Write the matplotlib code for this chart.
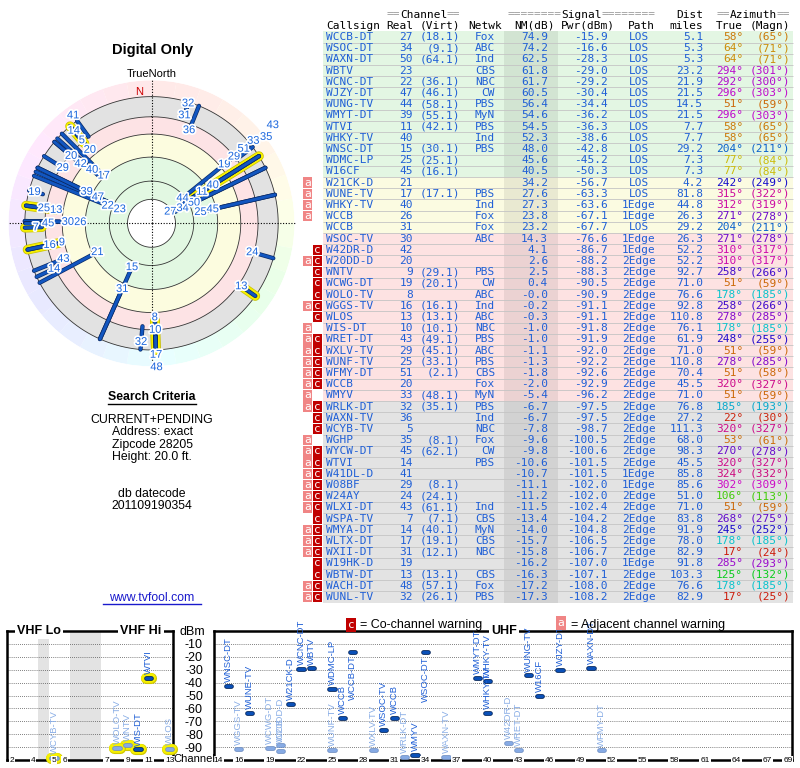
import colorsys
import numpy as np
import matplotlib
matplotlib.use('Agg')
import matplotlib.pyplot as plt
import matplotlib.patheffects as pe

# station list (sorted by NM)
callsign = ['WCCB-DT', 'WSOC-DT', 'WAXN-DT', 'WBTV', 'WCNC-DT', 'WJZY-DT', 'WUNG-TV', 'WMYT-DT', 'WTVI', 'WHKY-TV',
            'WNSC-DT', 'WDMC-LP', 'W16CF', 'W21CK-D', 'WUNE-TV', 'WHKY-TV', 'WCCB', 'WCCB', 'WSOC-TV', 'W42DR-D',
            'W20DD-D', 'WNTV', 'WCWG-DT', 'WOLO-TV', 'WGGS-TV', 'WLOS', 'WIS-DT', 'WRET-DT', 'WXLV-TV', 'WUNF-TV',
            'WFMY-DT', 'WCCB', 'WMYV', 'WRLK-DT', 'WAXN-TV', 'WCYB-TV', 'WGHP', 'WYCW-DT', 'WTVI', 'W41DL-D',
            'W08BF', 'W24AY', 'WLXI-DT', 'WSPA-TV', 'WMYA-DT', 'WLTX-DT', 'WXII-DT', 'W19HK-D', 'WBTW-DT', 'WACH-DT',
            'WUNL-TV']
real = [27, 34, 50, 23, 22, 47, 44, 39, 11, 40, 15, 25, 45, 21, 17, 40, 26, 31, 30, 42,
        20, 9, 19, 8, 16, 13, 10, 43, 29, 25, 51, 20, 33, 32, 36, 5, 35, 45, 14, 41,
        29, 24, 43, 7, 14, 17, 31, 19, 13, 48, 32]
virt = [18.1, 9.1, 64.1, None, 36.1, 46.1, 58.1, 55.1, 42.1, None, 30.1, 25.1, 16.1, None, 17.1, None, None, None,
        None, None, None, 29.1, 20.1, None, 16.1, 13.1, 10.1, 49.1, 45.1, 33.1, 2.1, None, 48.1, 35.1, None, None,
        8.1, 62.1, None, None, 8.1, 24.1, 61.1, 7.1, 40.1, 19.1, 12.1, None, 13.1, 57.1, 26.1]
netwk = ['Fox', 'ABC', 'Ind', 'CBS', 'NBC', 'CW', 'PBS', 'MyN', 'PBS', 'Ind', 'PBS', '', '', '', 'PBS', 'Ind',
         'Fox', 'Fox', 'ABC', '', '', 'PBS', 'CW', 'ABC', 'Ind', 'ABC', 'NBC', 'PBS', 'ABC', 'PBS', 'CBS', 'Fox',
         'MyN', 'PBS', 'Ind', 'NBC', 'Fox', 'CW', 'PBS', '', '', '', 'Ind', 'CBS', 'MyN', 'CBS', 'NBC', '', 'CBS',
         'Fox', 'PBS']
nm = [74.9, 74.2, 62.5, 61.8, 61.7, 60.5, 56.4, 54.6, 54.5, 52.3, 48.0, 45.6, 40.5, 34.2, 27.6, 27.3, 23.8, 23.2,
      14.3, 4.1, 2.6, 2.5, 0.4, -0.0, -0.2, -0.3, -1.0, -1.0, -1.1, -1.3, -1.8, -2.0, -5.4, -6.7, -6.7, -7.8,
      -9.6, -9.8, -10.6, -10.7, -11.1, -11.2, -11.5, -13.4, -14.0, -15.7, -15.8, -16.2, -16.3, -17.2, -17.3]
pwr = [-15.9, -16.6, -28.3, -29.0, -29.2, -30.4, -34.4, -36.2, -36.3, -38.6, -42.8, -45.2, -50.3, -56.7, -63.3,
       -63.6, -67.1, -67.7, -76.6, -86.7, -88.2, -88.3, -90.5, -90.9, -91.1, -91.1, -91.8, -91.9, -92.0, -92.2,
       -92.6, -92.9, -96.2, -97.5, -97.5, -98.7, -100.5, -100.6, -101.5, -101.5, -102.0, -102.0, -102.4, -104.2,
       -104.8, -106.5, -106.7, -107.0, -107.1, -108.0, -108.2]
path = ['LOS', 'LOS', 'LOS', 'LOS', 'LOS', 'LOS', 'LOS', 'LOS', 'LOS', 'LOS', 'LOS', 'LOS', 'LOS', 'LOS', 'LOS',
        '1Edge', '1Edge', 'LOS', '1Edge', '1Edge', '2Edge', '2Edge', '2Edge', '2Edge', '2Edge', '2Edge', '2Edge',
        '2Edge', '2Edge', '2Edge', '2Edge', '2Edge', '2Edge', '2Edge', '2Edge', '2Edge', '2Edge', '2Edge', '2Edge',
        '1Edge', '1Edge', '2Edge', '2Edge', '2Edge', '2Edge', '2Edge', '2Edge', '1Edge', '2Edge', '2Edge', '2Edge']
dist = [5.1, 5.3, 5.3, 23.2, 21.9, 21.5, 14.5, 21.5, 7.7, 7.7, 29.2, 7.3, 7.3, 4.2, 81.8, 44.8, 26.3, 29.2, 26.3,
        52.2, 52.2, 92.7, 71.0, 76.6, 92.8, 110.8, 76.1, 61.9, 71.0, 110.8, 70.4, 45.5, 71.0, 76.8, 27.2, 111.3,
        68.0, 98.3, 45.5, 85.8, 85.6, 51.0, 71.0, 83.8, 91.9, 78.0, 82.9, 91.8, 103.3, 76.6, 82.9]
az_true = [58, 64, 64, 294, 292, 296, 51, 296, 58, 58, 204, 77, 77, 242, 315, 312, 271, 204, 271, 310,
           310, 258, 51, 178, 258, 278, 178, 248, 51, 278, 51, 320, 51, 185, 22, 320, 53, 270, 320, 324,
           302, 106, 51, 268, 245, 178, 17, 285, 125, 178, 17]
az_magn = [65, 71, 71, 301, 300, 303, 59, 303, 65, 65, 211, 84, 84, 249, 322, 319, 278, 211, 278, 317,
           317, 266, 59, 185, 266, 285, 185, 255, 59, 285, 58, 327, 59, 193, 30, 327, 61, 278, 327, 332,
           309, 113, 59, 275, 252, 185, 24, 293, 132, 185, 25]
warn = [''] * 13 + ['a', 'a', 'a', 'a', '', '', 'c', 'ac', 'c', 'c', 'c', 'ac', 'c', 'a',
                    'ac', 'ac', 'ac', 'ac', 'ac', 'a', 'ac', 'c', 'c', 'a',
                    'ac', 'ac', 'ac', 'ac', 'ac', 'ac', 'c', 'ac', 'ac', 'ac', 'c', 'c', 'ac', 'ac']

criteria = ['CURRENT+PENDING', 'Address: exact', 'Zipcode 28205', 'Height: 20.0 ft.']
datecode = '201109190354'

# polar rings (NM dB levels) and colour bands
ring_levels = [76, 57, 32, 8, -10, -31]
band_edges = [(-31, -10, '#e2e2e2'), (-10, 8, '#fde3e5'), (8, 32, '#fcfcdf'), (32, 76, '#e2f8e2')]

vhf_ch = [2, 3, 4, 5, 6, 7, 8, 9, 10, 11, 12, 13]
vhf_x = [2, 3, 4, 6, 7, 11, 12, 13, 14, 15, 16, 17]
vhf_ticks = [2, 4, 5, 6, 7, 9, 11, 13]
uhf_ticks = [14, 16, 19, 22, 25, 28, 31, 34, 37, 40, 43, 46, 49, 52, 55, 58, 61, 64, 67, 69]

W, H = 800, 768
MONO = 'DejaVu Sans Mono'
BLUE = '#1f5fd6'
plt.rcParams['font.family'] = 'Liberation Sans'
plt.rcParams['axes.unicode_minus'] = False


def az_color(az, s=0.95, v=0.8):
    h = np.interp(az, [0, 20, 60, 80, 110, 180, 210, 250, 300, 330, 360],
                  [0, 6, 36, 58, 110, 185, 220, 248, 300, 330, 360])
    return colorsys.hsv_to_rgb(h / 360.0, s, v)


nm_arr = np.array(nm)
n = len(callsign)
rows = np.arange(n)

fig = plt.figure(figsize=(8, 7.68), dpi=100)

# ---------------- table ----------------
tab = fig.add_axes([300 / W, 1 - 603 / H, 495 / W, 603 / H])
tab.set_xlim(300, 795)
tab.set_ylim(50.54, -3.30)
tab.axis('off')

bg_col = np.where(nm_arr >= 40, '#e3f6e3',
                  np.where(nm_arr >= 20, '#fbfbe1',
                           np.where(nm_arr > -6, '#fde2e2', '#e3e3e3')))
tab.barh(rows, 470, left=323, height=1.0, color=bg_col, linewidth=0)
tab.barh(rows, 54, left=504, height=1.0, color='black', alpha=0.07, linewidth=0)
tab.hlines(rows + 0.5, 323, 793, color='#c4c4c4', lw=0.6)

tkw = dict(fontsize=8, family=MONO, va='center')
for i in rows:
    if 'a' in warn[i]:
        tab.barh(i, 9, left=303, height=0.92, color='#f08585', linewidth=0)
        tab.text(307.5, i, 'a', color='white', ha='center', **tkw)
    if 'c' in warn[i]:
        tab.barh(i, 9, left=313, height=0.92, color='#c00000', linewidth=0)
        tab.text(317.5, i, 'c', color='white', ha='center', **tkw)
    tab.text(326, i, callsign[i], color=BLUE, ha='left', **tkw)
    tab.text(413, i, str(real[i]), color=BLUE, ha='right', **tkw)
    if virt[i] is not None:
        tab.text(460, i, '(%.1f)' % virt[i], color=BLUE, ha='right', **tkw)
    tab.text(495, i, netwk[i], color=BLUE, ha='right', **tkw)
    tab.text(548, i, '%.1f' % nm[i], color=BLUE, ha='right', **tkw)
    tab.text(608, i, '%.1f' % pwr[i], color=BLUE, ha='right', **tkw)
    tab.text(639, i, path[i], color=BLUE, ha='center', **tkw)
    tab.text(703, i, '%.1f' % dist[i], color=BLUE, ha='right', **tkw)
    tab.text(743, i, '%d°' % az_true[i], color=az_color(az_true[i]), ha='right', **tkw)
    tab.text(790, i, '(%d°)' % az_magn[i], color=az_color(az_true[i]), ha='right', **tkw)

cw = 6.69
for label, cx, neq in [('Channel', 423.5, 2), ('Signal', 581.5, 8), ('Azimuth', 753.5, 2)]:
    half = len(label) * cw / 2
    tab.text(cx, -2, label, color='black', ha='center', **tkw)
    tab.text(cx - half, -2, '=' * neq, color='#999999', ha='right', **tkw)
    tab.text(cx + half, -2, '=' * neq, color='#999999', ha='left', **tkw)
tab.text(703, -2, 'Dist', color='black', ha='right', **tkw)
for label, x, ha in [('Callsign', 326, 'left'), ('Real', 413, 'right'), ('(Virt)', 460, 'right'),
                     ('Netwk', 502, 'right'), ('NM(dB)', 555, 'right'), ('Pwr(dBm)', 615, 'right'),
                     ('Path', 655, 'right'), ('miles', 703, 'right'), ('True', 743, 'right'),
                     ('(Magn)', 790, 'right')]:
    tab.text(x, -1, label, color='black', ha=ha, **tkw)

# ---------------- polar plot ----------------
pol = fig.add_axes([8.5 / W, 1 - 366.3 / H, 286 / W, 286 / H], projection='polar')
pol.set_theta_zero_location('N')
pol.set_theta_direction(-1)
pol.set_ylim(0, 149)
pol.set_facecolor('none')
pol.grid(False)
pol.set_xticks([])
pol.set_yticks([])
pol.spines['polar'].set_visible(False)


def rr(v):
    return 101 - np.asarray(v, dtype=float)


wedge_c = np.arange(5, 360, 10)
pol.bar(np.radians(wedge_c), rr(-48) - rr(-31), bottom=rr(-31), width=np.radians(10),
        color=[az_color(a, s=0.09, v=1.0) for a in wedge_c], linewidth=0)
for lo, hi, c in band_edges:
    pol.bar(0, rr(lo) - rr(hi), bottom=rr(hi), width=2 * np.pi, color=c, linewidth=0)
th_full = np.linspace(0, 2 * np.pi, 361)
for lv in ring_levels:
    pol.plot(th_full, np.full_like(th_full, rr(lv)), color='#333333', lw=0.6)
for a in [0, 90, 180, 270]:
    pol.plot([np.radians(a)] * 2, [0, 150], color='black', lw=0.8, ls=(0, (1, 1.5)), clip_on=False)

for i in rows:
    if real[i] <= 13:
        pol.plot([np.radians(az_true[i])] * 2, [rr(nm[i]), rr(-31)], color='#f6f000', lw=6,
                 solid_capstyle='round', path_effects=[pe.Stroke(linewidth=7, foreground='#c8c000'), pe.Normal()])
for i in rows:
    pol.plot([np.radians(az_true[i])] * 2, [rr(nm[i]), rr(-31)], color='#1256c0', lw=2.1,
             solid_capstyle='round', path_effects=[pe.Stroke(linewidth=3.1, foreground='#0a2a66'), pe.Normal()])

# channel labels at the inner end of each bar, pushed outward when they collide
placed = []
for i in np.argsort(-nm_arr, kind='stable'):
    a = az_true[i]
    r = rr(nm[i]) - 3
    moved = True
    while moved:
        moved = False
        for pa, pr in placed:
            if abs(pa - a) <= 7 and abs(pr - r) < 12:
                r = pr + 13
                moved = True
    placed.append((a, r))
    pol.text(np.radians(a), r, str(real[i]), color='#1a66dd', fontsize=8, ha='center', va='center',
             clip_on=False, path_effects=[pe.withStroke(linewidth=2.5, foreground='white')])
pol.text(np.radians(-5.5), 137, 'N', color='#cc0000', fontsize=8, ha='center', va='center')

# ---------------- spectrum ----------------
def spec_axes(left, width, xlim):
    ax = fig.add_axes([left / W, 1 - 760 / H, width / W, 129 / H])
    ax.set_xlim(*xlim)
    ax.set_ylim(-100, 0)
    for s in ax.spines.values():
        s.set_linewidth(1.8)
    ax.set_xticks([])
    ax.set_yticks([])
    for v in range(-90, 0, 10):
        ax.axhline(v, color='#555555', lw=0.6, ls=(0, (1, 1.5)), zorder=1)
    return ax


vhf = spec_axes(7, 166, (1.52, 17.33))
uhf = spec_axes(214, 578, (13.6, 69.4))
vhf.axvspan(4.5, 5.5, color='#e3e3e3', lw=0, zorder=0)
vhf.axvspan(7.5, 10.5, color='#e3e3e3', lw=0, zorder=0)

uhf.set_yticks(np.arange(-90, 0, 10))
uhf.set_yticklabels(['%d' % v for v in np.arange(-90, 0, 10)])
uhf.tick_params(axis='y', length=0, pad=8, labelsize=9)

box = dict(facecolor='white', edgecolor='none', pad=1.5)
vhf.text(0.193, 1.0, 'VHF Lo', transform=vhf.transAxes, ha='center', va='center', fontsize=9,
         fontweight='bold', bbox=box, zorder=5, clip_on=False)
vhf.text(0.807, 1.0, 'VHF Hi', transform=vhf.transAxes, ha='center', va='center', fontsize=9,
         fontweight='bold', bbox=box, zorder=5, clip_on=False)
uhf.text(0.502, 1.0, 'UHF', transform=uhf.transAxes, ha='center', va='center', fontsize=9,
         fontweight='bold', bbox=box, zorder=5, clip_on=False)

small = dict(facecolor='white', edgecolor='none', pad=0.6)
for ch in vhf_ticks:
    vhf.text(vhf_x[vhf_ch.index(ch)], -100, str(ch), ha='center', va='center', fontsize=6,
             bbox=small, zorder=5, clip_on=False)
for ch in uhf_ticks:
    uhf.text(ch, -100, str(ch), ha='center', va='center', fontsize=6, bbox=small, zorder=5, clip_on=False)

for i in rows:
    if pwr[i] < -100:
        continue
    if real[i] <= 13:
        ax, x = vhf, vhf_x[vhf_ch.index(real[i])]
    else:
        ax, x = uhf, real[i]
    weak = 'c' in warn[i]
    fill, edge, tcol = ('#86aae4', '#7090c4', '#8aaee6') if weak else ('#0a50b8', '#00235a', BLUE)
    if real[i] <= 13:
        ax.plot([x - 0.25, x + 0.25], [pwr[i]] * 2, color='#f6f000', lw=7, solid_capstyle='round', zorder=3,
                clip_on=False, path_effects=[pe.Stroke(linewidth=8, foreground='#d0c800'), pe.Normal()])
    ax.plot([x - 0.25, x + 0.25], [pwr[i]] * 2, color=fill, lw=2.2, solid_capstyle='round', zorder=4,
            clip_on=False, path_effects=[pe.Stroke(linewidth=3.4, foreground=edge), pe.Normal()])
    if pwr[i] > -25:
        ax.text(x, pwr[i] - 3, callsign[i], rotation=90, ha='center', va='top', fontsize=6.8, color=tcol,
                zorder=4, clip_on=False)
    else:
        ax.text(x, pwr[i] + 3, callsign[i], rotation=90, ha='center', va='bottom', fontsize=6.8, color=tcol,
                zorder=4, clip_on=False)

# ---------------- free text (pixel coordinates) ----------------
bg = fig.add_axes([0, 0, 1, 1], zorder=10)
bg.set_xlim(0, W)
bg.set_ylim(H, 0)
bg.axis('off')
bg.patch.set_visible(False)

bg.text(152, 50, 'Digital Only', ha='center', va='center', fontsize=10.5, fontweight='bold')
bg.text(152, 74, 'TrueNorth', ha='center', va='center', fontsize=8)
bg.text(152, 397, 'Search Criteria', ha='center', va='center', fontsize=8.8, fontweight='bold')
bg.plot([108, 196], [404, 404], color='black', lw=1)
for k, s in enumerate(criteria):
    bg.text(152, 420 + 12.4 * k, s, ha='center', va='center', fontsize=8.8)
bg.text(152, 494, 'db datecode', ha='center', va='center', fontsize=8.8)
bg.text(152, 506, datecode, ha='center', va='center', fontsize=8.8)
bg.text(152, 598, 'www.tvfool.com', ha='center', va='center', fontsize=8.8, color='#1a1acc')
bg.plot([103, 201], [604, 604], color='#1a1acc', lw=1)

bg.text(194, 759, 'Channel', ha='center', va='center', fontsize=8)
bg.text(205, 632, 'dBm', ha='right', va='center', fontsize=9)
bg.text(351, 625, 'c', ha='center', va='center', fontsize=8, color='white', family=MONO,
        bbox=dict(facecolor='#c00000', edgecolor='none', pad=1.2))
bg.text(360, 625, '= Co-channel warning', ha='left', va='center', fontsize=9)
bg.text(561, 623, 'a', ha='center', va='center', fontsize=8, color='white', family=MONO,
        bbox=dict(facecolor='#f08585', edgecolor='none', pad=1.2))
bg.text(571, 625, '= Adjacent channel warning', ha='left', va='center', fontsize=9)

fig.savefig('out.png', dpi=100)
